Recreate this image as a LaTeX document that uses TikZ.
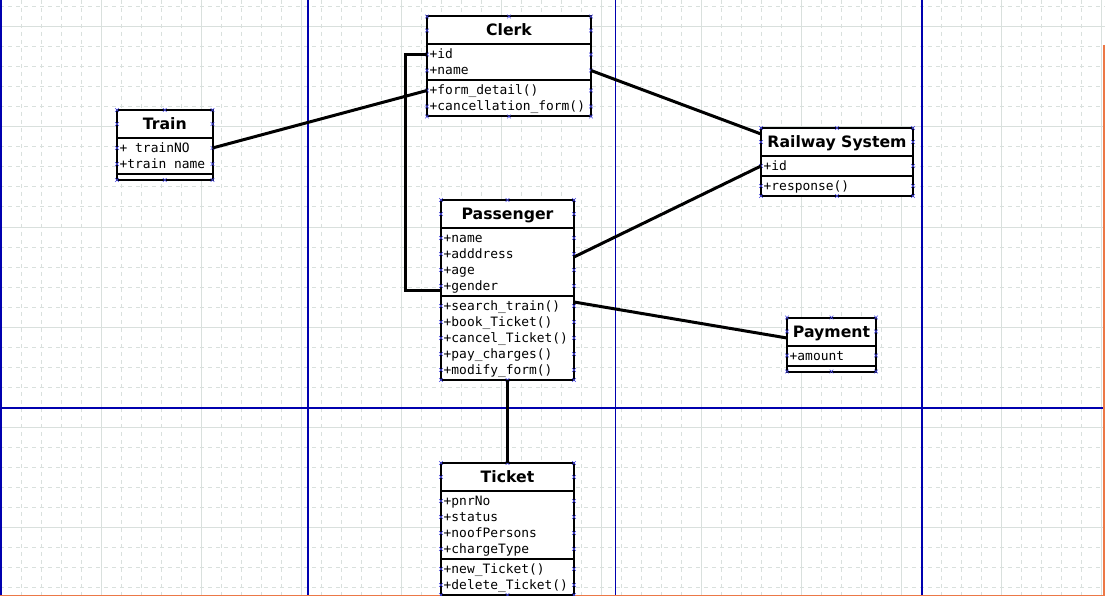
\documentclass[tikz,border=0pt]{standalone}
\usepackage{fontspec}
\setmainfont{DejaVu Sans}
\newfontfamily\monof{DejaVu Sans Mono}
\usetikzlibrary{calc}
\definecolor{gridc}{RGB}{217,224,221}
\definecolor{bluel}{RGB}{0,0,175}
\definecolor{oran}{RGB}{236,120,70}
\definecolor{xmc}{RGB}{70,70,230}
\tikzset{
  umlbody/.style={draw, fill=white, line width=2pt, inner sep=0pt, outer sep=0pt, anchor=north west},
  umltitle/.style={font=\fontsize{15.7}{16}\selectfont\bfseries, inner sep=0pt, anchor=base},
  umlrow/.style={font=\monof\fontsize{12.9}{14}\selectfont, inner sep=0pt, anchor=base west},
  assoc/.style={line width=3pt},
  minorgrid/.style={gridc, line width=1pt, dash pattern=on 4pt off 4pt},
  majorgrid/.style={gridc, line width=1pt},
  guide/.style={bluel, line width=1.2pt},
  xm/.pic={\draw[xmc, line width=0.6pt] (-1.8,-1.8)--(1.8,1.8) (-1.8,1.8)--(1.8,-1.8);},
}
\newcommand\umlbox[7]{%
  \pgfmathsetmacro\uya{#4+28}%
  \pgfmathsetmacro\uym{\uya+#6}%
  \pgfmathsetmacro\uyb{\uym+#7}%
  \pgfmathsetmacro\uxc{(#2+#3)/2}%
  \pgfmathsetmacro\uyt{#4+14}%
  \node[umlbody, minimum width=#3-#2, minimum height=\uyb-#4] (#1) at (#2,#4) {};
  \draw[line width=2pt] (#2,\uya) -- (#3,\uya) (#2,\uym) -- (#3,\uym);
  \node[umltitle] (#1T) at (\uxc,#4+19.5) {#5};
  \foreach \xx in {#2,\uxc,#3}{\pic at (\xx,#4) {xm}; \pic at (\xx,\uyb) {xm};}
  \pic at (#2,\uyt) {xm}; \pic at (#3,\uyt) {xm};
}
\newcommand\umlrows[5]{%
  \foreach \t [count=\i] in {#5}{%
    \pgfmathsetmacro\uyr{#4+10+16*(\i-1)}%
    \node[umlrow] (#1\i) at (#2+2.5,\uyr+4.5) {\t};
    \pic at (#2,\uyr) {xm}; \pic at (#3,\uyr) {xm};
  }%
}
\begin{document}
\begin{tikzpicture}[x=1pt,y=-1pt]
\useasboundingbox (0,0) rectangle (1105,596);
\fill[white] (0,0) rectangle (1105,596);
% grid
\foreach \i in {0,...,55} \draw[minorgrid] ({1.7+20*\i},0) -- ({1.7+20*\i},596);
\foreach \j in {0,...,29} \draw[minorgrid] (0,{7+20*\j}) -- (1105,{7+20*\j});
\foreach \i in {0,...,11} \draw[majorgrid] ({1.7+100*\i},0) -- ({1.7+100*\i},596);
\foreach \j in {0,...,5} \draw[majorgrid] (0,{27+100*\j}) -- (1105,{27+100*\j});
% guides
\draw[guide] (308,0) -- (308,596);
\draw[guide] (615.5,0) -- (615.5,596);
\draw[guide] (922,0) -- (922,596);
\draw[guide] (0,408) -- (1105,408);
\draw[guide, line width=1.5pt] (0.8,0) -- (0.8,596);
\draw[oran, line width=1.5pt] (1104,45) -- (1104,596);
\draw[oran, line width=1.5pt] (0,595.3) -- (1105,595.3);
% classes
\umlbox{clerk}{427}{591}{16.5}{Clerk}{36}{36}
\umlrows{clerkA}{427}{591}{44.5}{+id,+name}
\umlrows{clerkM}{427}{591}{80.5}{+form\_detail(),+cancellation\_form()}
\umlbox{train}{117}{212.5}{110}{Train}{36}{6}
\umlrows{trainA}{117}{212.5}{138}{+ trainNO,+train name}
\umlbox{rail}{761}{913}{128}{Railway System}{20}{20}
\umlrows{railA}{761}{913}{156}{+id}
\umlrows{railM}{761}{913}{176}{+response()}
\umlbox{pass}{441}{574}{200}{Passenger}{68}{84}
\umlrows{passA}{441}{574}{228}{+name,+adddress,+age,+gender}
\umlrows{passM}{441}{574}{296}{+search\_train(),+book\_Ticket(),+cancel\_Ticket(),+pay\_charges(),+modify\_form()}
\umlbox{pay}{787}{876}{317.5}{Payment}{20}{6}
\umlrows{payA}{787}{876}{345.5}{+amount}
\umlbox{ticket}{441}{574}{463}{Ticket}{68}{36}
\umlrows{ticketA}{441}{574}{491}{+pnrNo,+status,+noofPersons,+chargeType}
\umlrows{ticketM}{441}{574}{559}{+new\_Ticket(),+delete\_Ticket()}
% associations
\draw[assoc] ($(train.north east)+(0,38)$) -- ($(clerk.north west)+(0,74)$);
\draw[assoc] ($(clerk.north east)+(0,54)$) -- ($(rail.north west)+(0,6)$);
\draw[assoc] ($(pass.north east)+(0,57)$) -- ($(rail.north west)+(0,38)$);
\draw[assoc] ($(pass.north east)+(0,102)$) -- ($(pay.north west)+(0,20.5)$);
\draw[assoc] (pass.south) -- (ticket.north);
\draw[assoc] ($(clerk.north west)+(0,38)$) -- ++(-22,0) |- ($(pass.north west)+(0,90)$);
\end{tikzpicture}
\end{document}
